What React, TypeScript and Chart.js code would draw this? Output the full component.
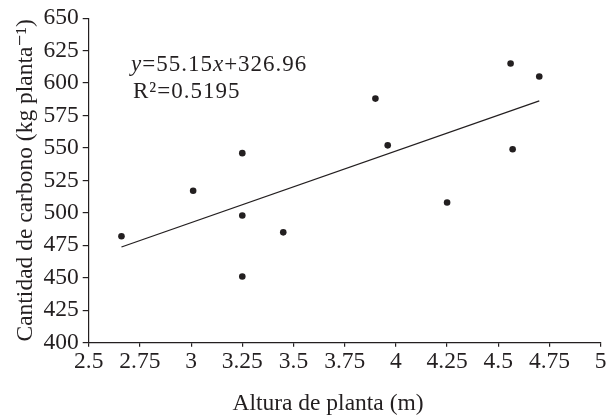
import React, { useEffect, useRef } from "react";
import { Chart, registerables } from "chart.js";

Chart.register(...registerables);

// Data
const plantHeight = [2.66, 3.01, 3.25, 3.25, 3.25, 3.45, 3.9, 3.96, 4.25, 4.56, 4.57, 4.7];
const carbonAmount = [482, 517, 546, 498, 451, 485, 588, 552, 508, 615, 549, 605];
const trendX = [2.66, 4.7];
const trendY = [473.7, 586.2];
const xTickValues = [2.5, 2.75, 3, 3.25, 3.5, 3.75, 4, 4.25, 4.5, 4.75, 5];
const yTickValues = [400, 425, 450, 475, 500, 525, 550, 575, 600, 625, 650];
const xTitle = "Altura de planta (m)";
const yTitle = "Cantidad de carbono (kg planta\u207B\u00B9)";
const eqParts = [
  { t: "y", italic: true },
  { t: "=55.15", italic: false },
  { t: "x", italic: true },
  { t: "+326.96", italic: false },
];
const r2Text = "R\u00B2=0.5195";

const FONT = "'Liberation Serif', 'DejaVu Serif', serif";
const SIZE = 23.5;

const textPlugin = {
  id: "textPlugin",
  afterDraw(chart: any) {
    const ctx = chart.ctx as CanvasRenderingContext2D;
    ctx.save();
    ctx.fillStyle = "#231f20";
    (ctx as any).letterSpacing = "1px";
    ctx.textBaseline = "alphabetic";
    ctx.textAlign = "left";
    let x = 131;
    for (const p of eqParts) {
      ctx.font = `${p.italic ? "italic " : ""}23px ${FONT}`;
      ctx.fillText(p.t, x, 71);
      x += ctx.measureText(p.t).width;
    }
    ctx.font = `23px ${FONT}`;
    ctx.fillText(r2Text, 133, 98);
    (ctx as any).letterSpacing = "0px";
    // x axis title
    ctx.textAlign = "center";
    ctx.font = `${SIZE}px ${FONT}`;
    ctx.fillText(xTitle, 328, 410);
    ctx.restore();
  },
};

export default function App() {
  const ref = useRef<HTMLCanvasElement | null>(null);
  useEffect(() => {
    if (!ref.current) return;
    const points = plantHeight.map((h, i) => ({ x: h, y: carbonAmount[i] }));
    const trend = trendX.map((h, i) => ({ x: h, y: trendY[i] }));
    const chart = new Chart(ref.current, {
      type: "scatter",
      data: {
        datasets: [
          {
            type: "scatter",
            data: points,
            pointRadius: 3.3,
            pointBackgroundColor: "#231f20",
            pointBorderColor: "#231f20",
            pointBorderWidth: 0,
          },
          {
            type: "line",
            data: trend,
            borderColor: "#231f20",
            borderWidth: 1.3,
            pointRadius: 0,
            fill: false,
          },
        ],
      } as any,
      options: {
        animation: false,
        responsive: false,
        layout: { padding: { top: 15.7, right: 13.3, left: 0, bottom: 0 } },
        plugins: { legend: { display: false }, tooltip: { enabled: false } },
        scales: {
          x: {
            type: "linear",
            min: 2.5,
            max: 5,
            afterBuildTicks: (axis: any) => {
              axis.ticks = xTickValues.map((v) => ({ value: v }));
            },
            afterFit: (scale: any) => {
              scale.height = 73.3;
            },
            ticks: {
              color: "#231f20",
              font: { family: FONT, size: SIZE },
              padding: 1,
              maxRotation: 0,
              autoSkip: false,
              callback: (v: any) => String(v),
            },
            grid: { drawOnChartArea: false, drawTicks: true, tickLength: 4, color: "#231f20", lineWidth: 1.2 },
            border: { display: true, color: "#231f20", width: 1.2 },
            title: { display: false },
          },
          y: {
            type: "linear",
            min: 400,
            max: 650,
            afterBuildTicks: (axis: any) => {
              axis.ticks = yTickValues.map((v) => ({ value: v }));
            },
            afterFit: (scale: any) => {
              scale.width = 88.7;
            },
            ticks: {
              color: "#231f20",
              font: { family: FONT, size: SIZE },
              padding: 4,
              autoSkip: false,
              callback: (v: any) => String(v),
            },
            grid: { drawOnChartArea: false, drawTicks: true, tickLength: 6, color: "#231f20", lineWidth: 1.2 },
            border: { display: true, color: "#231f20", width: 1.2 },
            title: {
              display: true,
              text: yTitle,
              color: "#231f20",
              font: { family: FONT, size: SIZE },
              padding: { top: 12, bottom: 0 },
            },
          },
        },
      } as any,
      plugins: [textPlugin],
    });
    return () => chart.destroy();
  }, []);
  return (
    <div style={{ position: "absolute", left: 0, top: 0, width: 614, height: 416, background: "#fff" }}>
      <canvas ref={ref} width={614} height={416} style={{ display: "block" }} />
    </div>
  );
}
